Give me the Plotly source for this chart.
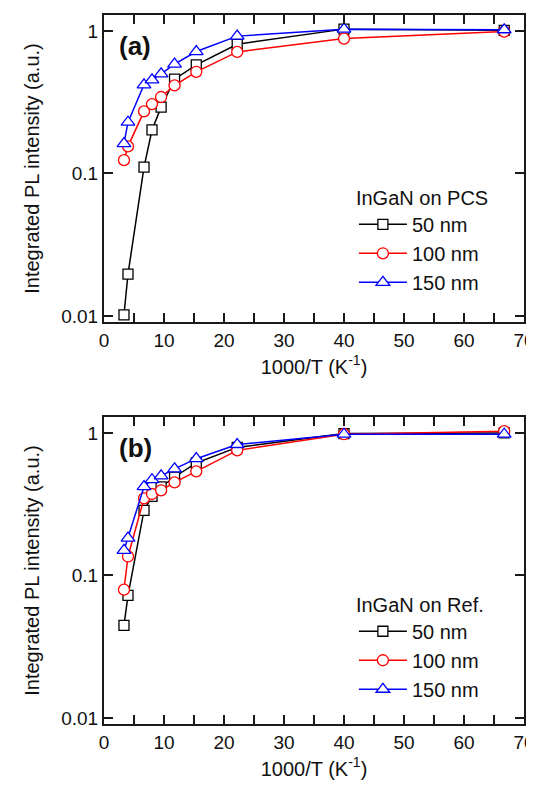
import plotly.graph_objects as go
from plotly.subplots import make_subplots

# 1000/T values (K^-1) for the measured temperatures
inv_temp = [3.33, 4.0, 6.67, 8.0, 9.52, 11.76, 15.38, 22.2, 40.0, 66.7]

# (a) InGaN on PCS
pcs_50 = [0.0102, 0.0197, 0.111, 0.202, 0.292, 0.459, 0.578, 0.807, 1.03, 1.01]
pcs_100 = [0.124, 0.155, 0.273, 0.307, 0.344, 0.415, 0.517, 0.713, 0.884, 0.99]
pcs_150 = [0.162, 0.229, 0.419, 0.454, 0.50, 0.585, 0.717, 0.92, 1.03, 1.02]

# (b) InGaN on Ref.
ref_50 = [0.0447, 0.0725, 0.286, 0.359, 0.418, 0.491, 0.616, 0.792, 0.99, 1.0]
ref_100 = [0.0795, 0.136, 0.348, 0.373, 0.396, 0.45, 0.538, 0.755, 0.98, 1.03]
ref_150 = [0.15, 0.183, 0.42, 0.47, 0.50, 0.56, 0.66, 0.83, 0.98, 0.98]

labels = ["50 nm", "100 nm", "150 nm"]
colors = ["#000000", "#ff0000", "#0000ff"]
symbols = ["square", "circle", "triangle-up"]
sizes = [10, 11, 12]

FONT = "Arial, Liberation Sans, sans-serif"

fig = make_subplots(rows=2, cols=1, vertical_spacing=0.134)

panels = [(1, [pcs_50, pcs_100, pcs_150], "legend"),
          (2, [ref_50, ref_100, ref_150], "legend2")]
for row, series, leg in panels:
    for ys, name, c, sym, sz in zip(series, labels, colors, symbols, sizes):
        fig.add_trace(
            go.Scatter(
                x=inv_temp, y=ys, name=name, mode="lines+markers",
                line=dict(color=c, width=1.5),
                marker=dict(symbol=sym, size=sz, color="white",
                            line=dict(color=c, width=1.3)),
                legend=leg,
            ),
            row=row, col=1
        )

axis_common = dict(
    showline=True, linecolor="#1a1a1a", linewidth=2, mirror="ticks",
    ticks="inside", ticklen=9, tickwidth=2, tickcolor="#1a1a1a",
    showgrid=False, zeroline=False, automargin=False,
    ticklabeloverflow="allow",
    tickfont=dict(family=FONT, size=19, color="#111"),
)

for row in (1, 2):
    fig.update_xaxes(
        range=[0, 70], tickmode="linear", tick0=0, dtick=5,
        tickvals=None,
        title=dict(text="1000/T (K<sup>-1</sup>)", font=dict(family=FONT, size=20, color="#111"), standoff=10),
        row=row, col=1, **axis_common
    )
    fig.update_yaxes(
        type="log", range=[-2.042, 0.112], dtick=1,
        title=dict(text="Integrated PL intensity (a.u.)", font=dict(family=FONT, size=20, color="#111"), standoff=16),
        row=row, col=1, **axis_common
    )

# ticks every 5 on x, labels only on multiples of 10
fig.update_xaxes(tickmode="array",
                 tickvals=[0, 5, 10, 15, 20, 25, 30, 35, 40, 45, 50, 55, 60, 65, 70],
                 ticktext=["0", "", "10", "", "20", "", "30", "", "40", "", "50", "", "60", "", "70"])

# the page body adds an 8 px offset, so the figure is 8 px smaller each way
fig.update_layout(
    width=526, height=781,
    margin=dict(l=96, r=10, t=7, b=65),
    paper_bgcolor="white", plot_bgcolor="white",
    font=dict(family=FONT, size=20, color="#111"),
    legend=dict(
        title=dict(text="InGaN on PCS", font=dict(family=FONT, size=20)),
        x=0.595, y=0.769, xanchor="left", yanchor="top",
        bgcolor="rgba(0,0,0,0)", font=dict(family=FONT, size=20),
        tracegroupgap=0, itemwidth=48,
    ),
    legend2=dict(
        title=dict(text="InGaN on Ref.", font=dict(family=FONT, size=20)),
        x=0.595, y=0.195, xanchor="left", yanchor="top",
        bgcolor="rgba(0,0,0,0)", font=dict(family=FONT, size=20),
        tracegroupgap=0, itemwidth=48,
    ),
    annotations=[
        dict(text="<b>(a)</b>", xref="x domain", yref="y domain", x=0.03, y=0.9,
             xanchor="left", yanchor="middle", showarrow=False,
             font=dict(family=FONT, size=26, color="#111")),
        dict(text="<b>(b)</b>", xref="x2 domain", yref="y2 domain", x=0.03, y=0.9,
             xanchor="left", yanchor="middle", showarrow=False,
             font=dict(family=FONT, size=26, color="#111")),
    ],
)

fig.write_html("out.html")
